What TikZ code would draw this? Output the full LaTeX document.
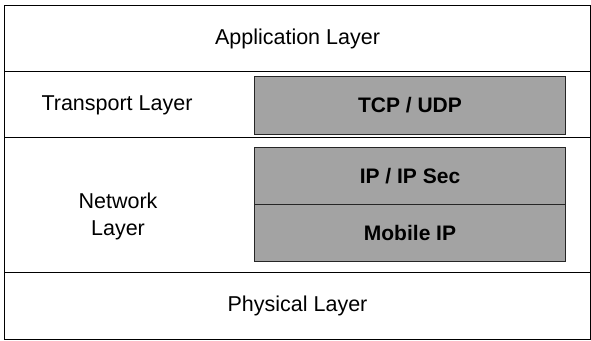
\documentclass[tikz,border=0pt]{standalone}
\usepackage{fontspec}
\setmainfont{Liberation Sans}
\begin{document}
\begin{tikzpicture}[x=1pt,y=-1pt,
  layer/.style={draw=black,line width=1pt,minimum width=586pt,inner sep=0pt,anchor=north west,font=\fontsize{21.5}{26}\selectfont},
  proto/.style={draw=black!85,line width=1pt,fill=black!36,minimum width=311pt,inner sep=0pt,anchor=north west,font=\fontsize{21}{26}\selectfont\bfseries},
  lbl/.style={font=\fontsize{21.5}{27}\selectfont,align=center}]
\useasboundingbox (0,0) rectangle (591,340);
\node[layer,minimum height=66pt] (app) at (4,5) {Application Layer};
\node[layer,minimum height=66pt] (trans) at (4,71) {};
\node[layer,minimum height=135pt] (net) at (4,137) {};
\node[layer,minimum height=67pt] (phys) at (4,272) {Physical Layer};
\node[lbl] (translbl) at (117,105) {Transport Layer};
\node[lbl] (netlbl) at (118,216) {Network\\Layer};
\node[proto,minimum height=58pt] (tcp) at (254,76) {TCP / UDP};
\node[proto,minimum height=57pt] (ip) at (254,147) {IP / IP Sec};
\node[proto,minimum height=57pt] (mip) at (254,204) {Mobile IP};
\end{tikzpicture}
\end{document}
